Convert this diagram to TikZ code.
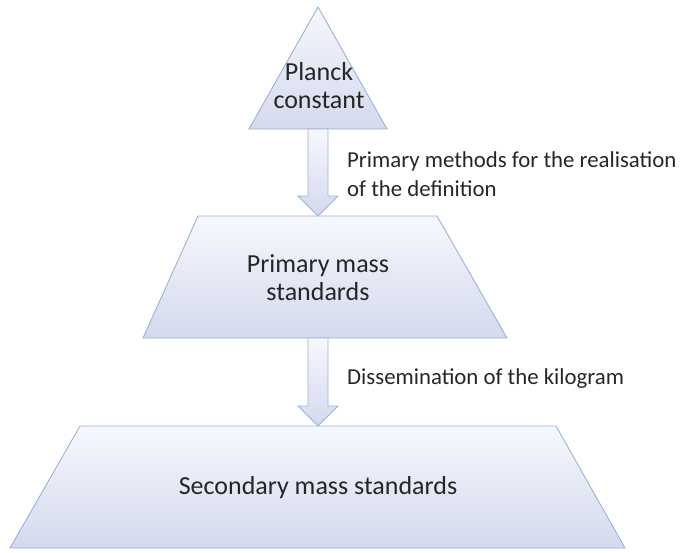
\documentclass[tikz,border=0pt]{standalone}
\usepackage{fontspec}
\setmainfont{Carlito}
\usetikzlibrary{calc}

\definecolor{edgeblue}{RGB}{150,180,215}
\definecolor{filltop}{RGB}{246,248,253}
\definecolor{fillbot}{RGB}{212,217,237}
\definecolor{textgrey}{RGB}{38,38,38}

% block arrow from the base of one level to the top of the next
\newcommand{\blockarrow}[2]{%
  \draw[arrowbox] ($(#1)+(-10,0)$) -- ($(#1)+(10,0)$) -- ($(#2)+(10,-20)$)
    -- ($(#2)+(20,-20)$) -- (#2) -- ($(#2)+(-20,-20)$) -- ($(#2)+(-10,-20)$) -- cycle;}

\begin{document}
\begin{tikzpicture}[x=1pt, y=-1pt,
   level/.style={draw=edgeblue, line width=0.9pt, top color=filltop, bottom color=fillbot},
   arrowbox/.style={draw=edgeblue, line width=0.9pt, top color=filltop, bottom color=fillbot},
   title/.style={text=textgrey, align=center, inner sep=0pt, font=\fontsize{26}{28}\selectfont},
   note/.style={text=textgrey, align=left, anchor=west, inner sep=0pt, font=\fontsize{22.8}{29}\selectfont}]

   \useasboundingbox (0,0) rectangle (683,552);

   % 1. The three levels of the pyramid
   \draw[level] (318,7) -- (387,129) -- (249,129) -- cycle;
   \draw[level] (198,216) -- (437,216) -- (507,338) -- (143,338) -- cycle;
   \draw[level] (80,426) -- (556,426) -- (625,548) -- (10,548) -- cycle;

   \coordinate (planckbase) at (318,129);
   \coordinate (primarytop) at (318,216);
   \coordinate (primarybase) at (318,338);
   \coordinate (secondarytop) at (318,426);

   % 2. Block arrows between the levels
   \blockarrow{planckbase}{primarytop}
   \blockarrow{primarybase}{secondarytop}

   % 3. Texts
   \node[title] (planck) at (319,86) {Planck\\constant};
   \node[title] (primary) at (318,278) {Primary mass\\standards};
   \node[title] (secondary) at (318,488) {Secondary mass standards};

   \node[note] (methods) at (347,174) {Primary methods for the realisation\\of the definition};
   \node[note] (dissem) at (347,379) {Dissemination of the kilogram};
\end{tikzpicture}
\end{document}
